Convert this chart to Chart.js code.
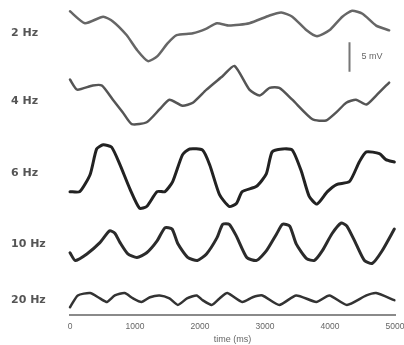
<!DOCTYPE html>
<html>
<head>
<meta charset="utf-8">
<script src="https://cdn.jsdelivr.net/npm/chart.js@4/dist/chart.umd.min.js"></script>
<style>
    html, body { margin: 0; padding: 0; background: #fff; }
    #wrap { width: 404px; height: 345px; }
</style>
</head>
<body>
<div id="wrap"><canvas id="traces"></canvas></div>
<script>
'use strict';

// Stimulus labels, top to bottom
const traceLabels = ['2 Hz', '4 Hz', '6 Hz', '10 Hz', '20 Hz'];

// Time (ms) and membrane potential (mV, relative to baseline) for each trace
const time2Hz = [0, 230, 510, 660, 870, 1030, 1200, 1350, 1500, 1640, 1890, 2100, 2260, 2450, 2760, 3070, 3250, 3420, 3640, 3800, 3990, 4190, 4340, 4500, 4710, 4910];
const volt2Hz = [3.7, 1.7, 2.8, 2.0, -0.3, -2.8, -4.7, -3.8, -1.7, -0.3, 0.0, 0.8, 1.7, 1.3, 1.7, 3.0, 3.5, 2.8, 0.5, -0.5, 0.5, 2.8, 3.8, 3.3, 1.3, 0.5];

const time4Hz = [0, 110, 350, 490, 660, 810, 950, 1180, 1380, 1530, 1730, 1890, 2100, 2350, 2530, 2760, 2920, 3070, 3220, 3420, 3730, 3940, 4100, 4250, 4400, 4560, 4710, 4910];
const volt4Hz = [3.7, 2.0, 2.7, 2.7, 0.3, -1.8, -3.8, -3.5, -1.3, 0.3, -0.7, -0.2, 2.0, 4.3, 6.0, 2.0, 1.0, 2.3, 2.3, 0.3, -3.0, -3.2, -1.8, -0.2, 0.3, -0.5, 1.0, 3.2];

const time6Hz = [0, 150, 310, 410, 510, 640, 770, 920, 1070, 1180, 1340, 1460, 1580, 1730, 1840, 2040, 2150, 2300, 2450, 2560, 2650, 2870, 3020, 3110, 3270, 3420, 3560, 3680, 3800, 3960, 4100, 4300, 4450, 4560, 4760, 4860, 4990];
const volt6Hz = [-3.2, -3.2, -0.3, 4.0, 4.7, 4.3, 1.3, -2.7, -6.0, -5.7, -3.2, -3.2, -1.5, 3.0, 4.0, 3.8, 1.3, -3.7, -5.7, -5.2, -3.2, -2.3, -0.2, 3.5, 4.0, 3.8, 0.2, -4.0, -5.3, -3.2, -2.0, -1.5, 1.8, 3.5, 3.2, 2.2, 1.8];

const time10Hz = [0, 80, 260, 460, 610, 690, 770, 890, 1030, 1180, 1340, 1460, 1570, 1660, 1810, 1960, 2100, 2260, 2350, 2450, 2560, 2720, 2870, 3020, 3180, 3270, 3380, 3480, 3640, 3760, 3880, 4030, 4170, 4260, 4400, 4530, 4650, 4800, 4990];
const volt10Hz = [-1.5, -2.8, -1.7, 0.2, 2.2, 1.8, 0.2, -1.7, -2.3, -1.5, 0.5, 2.7, 2.5, 0.0, -2.3, -2.8, -1.7, 1.0, 3.3, 3.3, 1.3, -2.3, -2.8, -1.2, 1.7, 3.3, 3.0, 0.0, -2.5, -2.8, -1.2, 1.7, 3.5, 3.0, 0.0, -2.8, -3.3, -1.2, 2.5];

const time20Hz = [0, 120, 310, 460, 570, 690, 840, 970, 1100, 1230, 1380, 1530, 1660, 1800, 1950, 2040, 2180, 2300, 2420, 2650, 2810, 2960, 3220, 3480, 3790, 3990, 4260, 4560, 4710, 4990];
const volt20Hz = [-1.2, 0.8, 1.2, 0.3, -0.3, 0.8, 1.2, 0.3, -0.3, 0.5, 0.8, 0.3, -0.8, 0.3, 0.8, 0.0, -0.8, 0.3, 1.2, -0.3, 0.5, 0.8, -0.8, 0.8, -0.3, 0.8, -0.8, 0.8, 1.2, 0.0];

// Calibration bar: 5 mV, placed on the top trace's axis
const scaleBarTime = 4300;
const scaleBarFrom = -1.5;
const scaleBarSpan = 5;
const scaleBarText = '5 mV';

const timeTicks = [0, 1000, 2000, 3000, 4000, 5000];

// Each trace gets its own y axis, top trace first
const traceSeries = [
    { id: 'y1', time: time2Hz,  volt: volt2Hz,  min: -5.5, max: 4.5, color: '#666', width: 2.5 },
    { id: 'y2', time: time4Hz,  volt: volt4Hz,  min: -6,   max: 6,   color: '#555', width: 2.5 },
    { id: 'y3', time: time6Hz,  volt: volt6Hz,  min: -7,   max: 6,   color: '#222', width: 3 },
    { id: 'y4', time: time10Hz, volt: volt10Hz, min: -5,   max: 5,   color: '#2b2b2b', width: 3 },
    { id: 'y5', time: time20Hz, volt: volt20Hz, min: -2.5, max: 4.5, color: '#333', width: 2.5 }
];

const toPoints = (xs, ys) => xs.map((x, i) => ({ x: x, y: ys[i] }));

const datasets = traceSeries.map((s, i) => ({
    label: traceLabels[i],
    data: toPoints(s.time, s.volt),
    yAxisID: s.id,
    borderColor: s.color,
    borderWidth: s.width,
    borderCapStyle: 'round',
    borderJoinStyle: 'round',
    pointRadius: 0,
    tension: 0.2,
    clip: false
}));

datasets.push({
    label: 'scale',
    data: [{ x: scaleBarTime, y: scaleBarFrom }, { x: scaleBarTime, y: scaleBarFrom - scaleBarSpan }],
    yAxisID: 'y1',
    borderColor: '#777',
    borderWidth: 2,
    pointRadius: 0,
    clip: false
});

const scales = {
    x: {
        type: 'linear',
        min: 0,
        max: 5000,
        afterBuildTicks: axis => { axis.ticks = timeTicks.map(v => ({ value: v })); },
        afterFit: axis => {
            axis.height = 30;
            axis.paddingLeft = 0;
            axis.paddingRight = 0;
        },
        grid: { display: false, drawTicks: false },
        border: { display: true, color: '#8a8a8a', width: 2 },
        ticks: {
            padding: 7,
            maxRotation: 0,
            color: '#666',
            font: { family: 'Liberation Sans', size: 8.5 },
            callback: v => String(v)
        },
        title: {
            display: true,
            text: 'time (ms)',
            color: '#666',
            padding: 0,
            font: { family: 'Liberation Sans', size: 9 }
        }
    }
};

// the layout stacks left axes bottom-up, so add them last trace first
traceSeries.slice().reverse().forEach(s => {
    const i = traceSeries.indexOf(s);
    scales[s.id] = {
        type: 'linear',
        position: 'left',
        stack: 'traces',
        stackWeight: s.max - s.min,
        min: s.min,
        max: s.max,
        afterBuildTicks: axis => { axis.ticks = [{ value: 0 }]; },
        afterFit: axis => { axis.width = 59; },
        grid: { display: false, drawTicks: false },
        border: { display: false },
        ticks: {
            crossAlign: 'far',
            padding: 0,
            color: '#555',
            font: { family: 'DejaVu Sans', size: 11, weight: 'bold' },
            callback: () => traceLabels[i]
        }
    };
});

// Text next to the calibration bar
const scaleBarLabel = {
    id: 'scaleBarLabel',
    afterDatasetsDraw: function(chart) {
        const ctx = chart.ctx;
        const x = chart.scales.x.getPixelForValue(scaleBarTime) + 12;
        const y = chart.scales.y1.getPixelForValue(scaleBarFrom - scaleBarSpan / 2);
        ctx.save();
        ctx.fillStyle = '#666';
        ctx.font = '9px "Liberation Sans"';
        ctx.textAlign = 'left';
        ctx.textBaseline = 'middle';
        ctx.fillText(scaleBarText, x, y);
        ctx.restore();
    }
};

new Chart(document.getElementById('traces').getContext('2d'), {
    type: 'line',
    data: { datasets: datasets },
    options: {
        responsive: true,
        maintainAspectRatio: false,
        animation: false,
        layout: { padding: { left: 11, right: 9, top: 3, bottom: 0 } },
        plugins: {
            legend: { display: false },
            tooltip: { enabled: false }
        },
        scales: scales
    },
    plugins: [scaleBarLabel]
});
</script>
</body>
</html>
